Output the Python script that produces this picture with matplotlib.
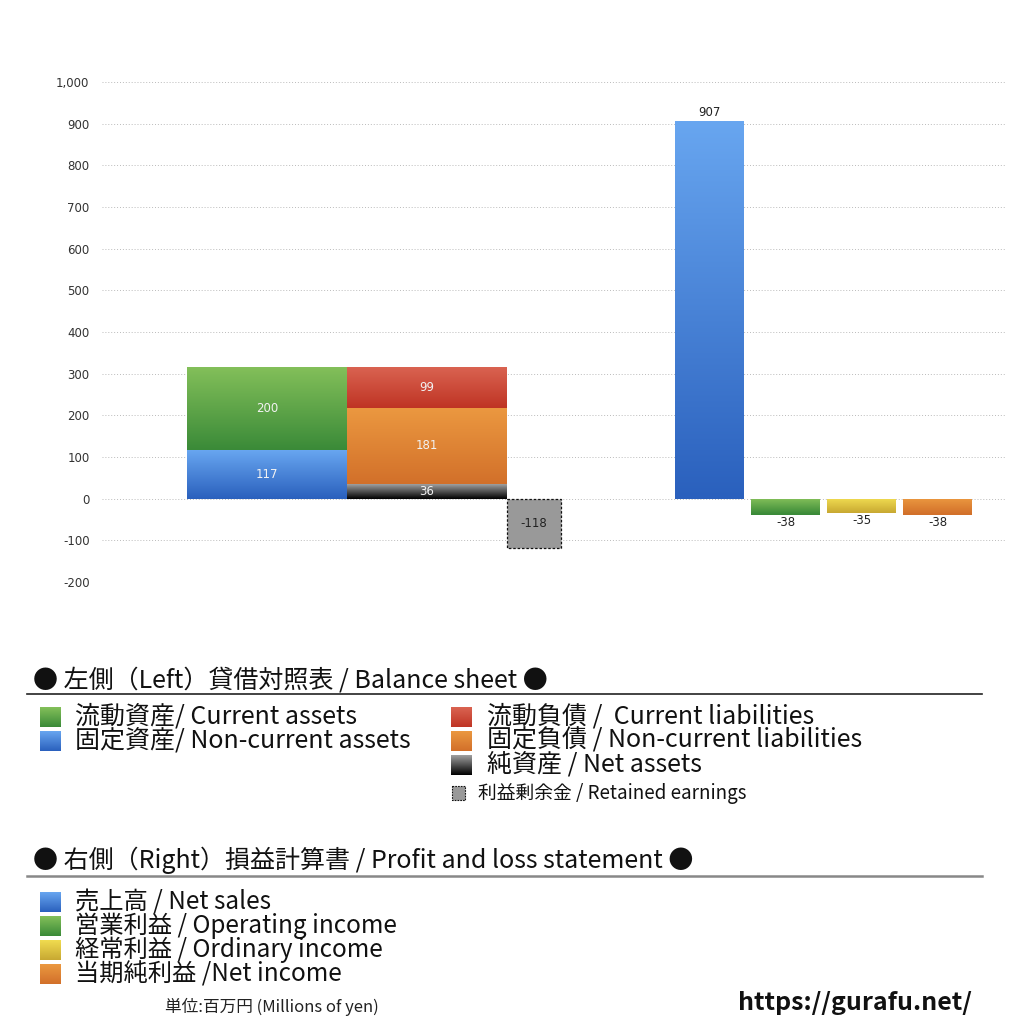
import numpy as np
import matplotlib
matplotlib.use('Agg')
import matplotlib.pyplot as plt
from matplotlib.colors import LinearSegmentedColormap
from matplotlib.patches import Rectangle

plt.rcParams['font.family'] = ['Noto Sans CJK JP', 'DejaVu Sans']
NUM_FONT = 'DejaVu Sans'

# balance sheet (left), millions of yen
assets_labels = ['固定資産', '流動資産']
assets_values = [117, 200]
liab_labels = ['純資産', '固定負債', '流動負債']
liab_values = [36, 181, 99]
retained_earnings = -118

# profit and loss (right)
pl_labels = ['売上高', '営業利益', '経常利益', '当期純利益']
pl_values = [907, -38, -35, -38]

y_ticks = list(range(-200, 1001, 100))

# (top colour, bottom colour) for gradients
GREEN = ('#84c05a', '#3a8a38')
BLUE = ('#68a6f0', '#2a60bd')
RED = ('#da6452', '#bf3424')
ORANGE = ('#eb9840', '#d2702a')
BLACK = ('#a0a0a0', '#000000')
YELLOW = ('#f0dc50', '#c8a832')
assets_colors = [BLUE, GREEN]
liab_colors = [BLACK, ORANGE, RED]
pl_colors = [BLUE, GREEN, YELLOW, ORANGE]

grad = np.linspace(0, 1, 256).reshape(-1, 1)


def fill_gradient(ax, patch, cols, z=3):
    cmap = LinearSegmentedColormap.from_list('g', [cols[1], cols[0]])
    x0, y0 = patch.get_xy()
    w, h = patch.get_width(), patch.get_height()
    ylo, yhi = min(y0, y0 + h), max(y0, y0 + h)
    im = ax.imshow(grad, cmap=cmap, extent=[x0, x0 + w, ylo, yhi], origin='lower',
                   aspect='auto', zorder=z, interpolation='bilinear')
    im.set_clip_path(patch)


fig = plt.figure(figsize=(10.24, 10.24), dpi=100)
ax = fig.add_axes([102 / 1024, 1 - 582 / 1024, 903 / 1024, 500 / 1024])

# left group
bottom = 0
for v, c in zip(assets_values, assets_colors):
    p = ax.bar(187, v, width=160, bottom=bottom, align='edge', color=c[1], zorder=2)[0]
    fill_gradient(ax, p, c)
    ax.text(267, bottom + v / 2, str(v), ha='center', va='center', color='#f2f2f2',
            fontsize=8.5, family=NUM_FONT, zorder=5)
    bottom += v

bottom = 0
for v, c in zip(liab_values, liab_colors):
    p = ax.bar(347, v, width=160, bottom=bottom, align='edge', color=c[1], zorder=2)[0]
    fill_gradient(ax, p, c)
    ax.text(427, bottom + v / 2, str(v), ha='center', va='center', color='#f2f2f2',
            fontsize=8.5, family=NUM_FONT, zorder=5)
    bottom += v

ax.bar(507, retained_earnings, width=54, align='edge', color='#999999',
       edgecolor='#111111', linestyle=(0, (2, 1.5)), linewidth=0.9, zorder=3)
ax.text(534, retained_earnings / 2, str(retained_earnings), ha='center', va='center',
        color='#222222', fontsize=8.5, family=NUM_FONT, zorder=5)

# right group
pl_x = [675, 751, 827, 903]
for x, v, c in zip(pl_x, pl_values, pl_colors):
    p = ax.bar(x, v, width=69, align='edge', color=c[1], zorder=2)[0]
    fill_gradient(ax, p, c)
    if v >= 0:
        ax.text(x + 34.5, v + 20, str(v), ha='center', va='center', color='#222222',
                fontsize=8.5, family=NUM_FONT)
    else:
        ax.text(x + 34.5, v - 18, str(v), ha='center', va='center', color='#222222',
                fontsize=8.5, family=NUM_FONT)

ax.set_xlim(102, 1005)
ax.set_ylim(-200, 1000)
ax.set_yticks(y_ticks)
ax.set_yticklabels([f'{v:,}' for v in y_ticks], fontfamily=NUM_FONT, fontsize=8.5,
                   color='#333333')
ax.set_xticks([])
ax.tick_params(axis='y', length=0, pad=9)
for s in ax.spines.values():
    s.set_visible(False)
ax.grid(axis='y', linestyle=(0, (1, 2)), color='#bbbbbb', linewidth=0.7, zorder=0)
ax.set_axisbelow(True)

# legend / annotations drawn in pixel coordinates
ov = fig.add_axes([0, 0, 1, 1])


def swatch(x, y, w, h, cols):
    cmap = LinearSegmentedColormap.from_list('g', [cols[1], cols[0]])
    ov.imshow(grad, cmap=cmap, extent=[x, x + w, y + h, y], origin='lower', aspect='auto')


ov.text(33, 680, '● 左側（Left）貸借対照表 / Balance sheet ●', fontsize=18, va='center', color='#111111')
ov.plot([27, 982], [694, 694], color='#222222', lw=1.2)

left_legend = [('流動資産/ Current assets', GREEN), ('固定資産/ Non-current assets', BLUE)]
for i, (t, c) in enumerate(left_legend):
    cy = 717 + 24 * i
    swatch(40, cy - 10, 21, 20, c)
    ov.text(75, cy, t, fontsize=18, va='center', color='#111111')

right_legend = [('流動負債 /  Current liabilities', RED),
                ('固定負債 / Non-current liabilities', ORANGE),
                ('純資産 / Net assets', BLACK)]
for i, (t, c) in enumerate(right_legend):
    cy = 717 + 24 * i
    swatch(451, cy - 10, 21, 20, c)
    ov.text(487, cy, t, fontsize=18, va='center', color='#111111')

ov.add_patch(Rectangle((452, 786), 13, 14, facecolor='#999999', edgecolor='#111111',
                       linestyle=(0, (1.5, 1)), linewidth=0.8))
ov.text(478, 793, '利益剰余金 / Retained earnings', fontsize=13.5, va='center', color='#111111')

ov.text(33, 860, '● 右側（Right）損益計算書 / Profit and loss statement ●', fontsize=18,
        va='center', color='#111111')
ov.plot([27, 982], [876, 876], color='#888888', lw=1.8)

pl_legend = ['売上高 / Net sales', '営業利益 / Operating income',
             '経常利益 / Ordinary income', '当期純利益 /Net income']
for i, (t, c) in enumerate(zip(pl_legend, pl_colors)):
    cy = 902 + 24 * i
    swatch(40, cy - 10, 21, 20, c)
    ov.text(75, cy, t, fontsize=17.5, va='center', color='#111111')

ov.text(165, 1007, '単位:百万円 (Millions of yen)', fontsize=12, va='center', color='#222222')
ov.text(972, 1003, 'https://gurafu.net/', fontsize=18, fontweight='bold', va='center',
        ha='right', color='#111111')

ov.set_xlim(0, 1024)
ov.set_ylim(1024, 0)
ov.axis('off')

fig.savefig('out.png', dpi=100)
